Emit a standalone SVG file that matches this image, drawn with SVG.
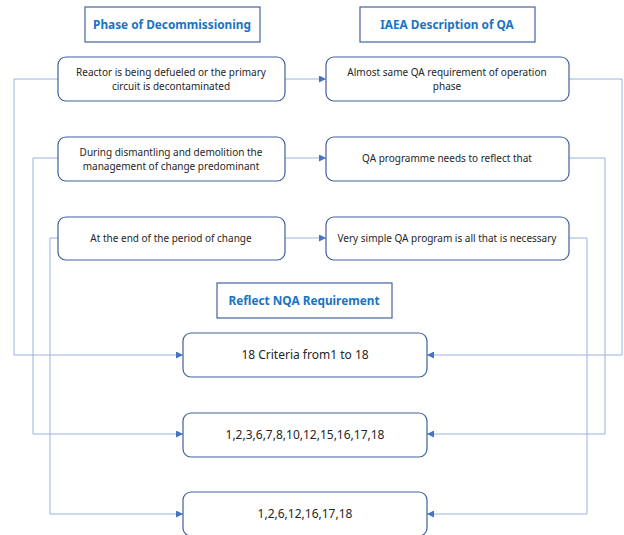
<svg xmlns="http://www.w3.org/2000/svg" width="624" height="535" viewBox="0 0 624 535">
<defs>
<style>
.title{fill:#fff;stroke:#41649E;stroke-width:1.2}
.ttxt{font-family:"Noto Sans","Open Sans",sans-serif;font-weight:bold;font-size:11.8px;fill:#1874C4;text-anchor:middle}
.node{fill:#fff;stroke:#40619C;stroke-width:1.2}
.txt{font-family:"Noto Sans","Open Sans",sans-serif;font-size:10px;fill:#262626;text-anchor:middle}
.btxt{font-family:"Noto Sans","Open Sans",sans-serif;font-size:12px;fill:#262626;text-anchor:middle}
.conn{fill:none;stroke:#9AB2DE;stroke-width:1}
</style>
<marker id="arr" viewBox="0 0 10 10" refX="10" refY="5" markerWidth="7" markerHeight="7" markerUnits="userSpaceOnUse" orient="auto">
<path d="M0,0 L10,5 L0,10 z" fill="#4472C4"/>
</marker>
</defs>
<rect width="624" height="535" fill="#fff"/>
<g id="connectors">
<path class="conn" d="M285,79 H326" marker-end="url(#arr)"/>
<path class="conn" d="M285,158 H326" marker-end="url(#arr)"/>
<path class="conn" d="M285,238 H326" marker-end="url(#arr)"/>
<path class="conn" d="M58,79 H14 V355 H183" marker-end="url(#arr)"/>
<path class="conn" d="M58,158 H33 V434 H183" marker-end="url(#arr)"/>
<path class="conn" d="M58,238 H50 V514 H183" marker-end="url(#arr)"/>
<path class="conn" d="M569,79 H622 V355 H427" marker-end="url(#arr)"/>
<path class="conn" d="M569,158 H605 V434 H427" marker-end="url(#arr)"/>
<path class="conn" d="M569,238 H587 V514 H427" marker-end="url(#arr)"/>
</g>
<g id="title-phase">
<rect class="title" x="85" y="7" width="175" height="35"/>
<text class="ttxt" x="172" y="29">Phase of Decommissioning</text>
</g>
<g id="title-iaea">
<rect class="title" x="360" y="7" width="175" height="35"/>
<text class="ttxt" x="447" y="29">IAEA Description of QA</text>
</g>
<g id="title-nqa">
<rect class="title" x="217" y="283" width="175" height="35"/>
<text class="ttxt" x="304" y="305">Reflect NQA Requirement</text>
</g>
<g id="left1">
<rect class="node" x="58" y="57" width="227" height="44" rx="8"/>
<text class="txt" x="171" y="76">Reactor is being defueled or the primary</text>
<text class="txt" x="171" y="90">circuit is decontaminated</text>
</g>
<g id="right1">
<rect class="node" x="326" y="57" width="243" height="44" rx="8"/>
<text class="txt" x="447" y="76">Almost same QA requirement of operation</text>
<text class="txt" x="447" y="90">phase</text>
</g>
<g id="left2">
<rect class="node" x="58" y="137" width="227" height="44" rx="8"/>
<text class="txt" x="171" y="156">During dismantling and demolition the</text>
<text class="txt" x="171" y="170">management of change predominant</text>
</g>
<g id="right2">
<rect class="node" x="326" y="137" width="243" height="44" rx="8"/>
<text class="txt" x="447" y="162">QA programme needs to reflect that</text>
</g>
<g id="left3">
<rect class="node" x="58" y="217" width="227" height="43" rx="8"/>
<text class="txt" x="171" y="242">At the end of the period of change</text>
</g>
<g id="right3">
<rect class="node" x="326" y="217" width="243" height="43" rx="8"/>
<text class="txt" x="447" y="242">Very simple QA program is all that is necessary</text>
</g>
<g id="bottom1">
<rect class="node" x="183" y="333" width="244" height="44" rx="8"/>
<text class="btxt" x="305" y="359">18 Criteria from1 to 18</text>
</g>
<g id="bottom2">
<rect class="node" x="183" y="413" width="244" height="44" rx="8"/>
<text class="btxt" x="305" y="439">1,2,3,6,7,8,10,12,15,16,17,18</text>
</g>
<g id="bottom3">
<rect class="node" x="183" y="492" width="244" height="44" rx="8"/>
<text class="btxt" x="305" y="518">1,2,6,12,16,17,18</text>
</g>
</svg>
